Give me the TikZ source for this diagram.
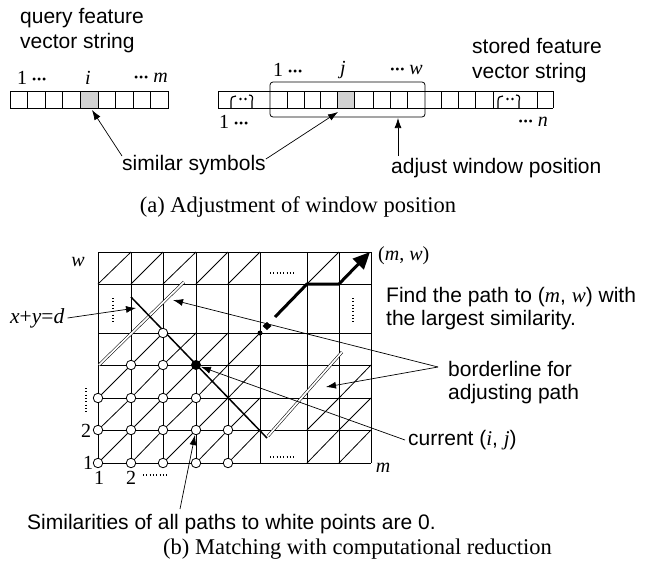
\documentclass[tikz,border=0pt]{standalone}
\usepackage{fontspec}
\setmainfont{Liberation Serif}
\setsansfont{Liberation Sans}
\usetikzlibrary{arrows.meta}
\newcommand\vi[1]{{\rmfamily\itshape #1}}
\newcommand\tdots{{\fontsize{12}{12}\selectfont\raisebox{0.15ex}{\textbullet\kern0.8pt\textbullet\kern0.8pt\textbullet}}}
\begin{document}
\begin{tikzpicture}[x=1pt,y=-1pt,
  sans/.style={font=\sffamily\fontsize{21}{25}\selectfont, inner sep=0pt, align=left},
  sans2/.style={font=\sffamily\fontsize{21}{23}\selectfont, inner sep=0pt, align=left},
  ser/.style={font=\rmfamily\fontsize{20}{22}\selectfont, inner sep=0pt},
  captext/.style={font=\rmfamily\fontsize{22.5}{26}\selectfont, inner sep=0pt},
  arr/.style={-{Latex[length=10pt,width=7pt]}, line width=0.7pt},
  thinl/.style={line width=0.8pt},
  cellbox/.style={draw, line width=0.8pt},
  wdot/.style={circle, draw, fill=white, inner sep=0pt, minimum size=9.5pt, line width=0.8pt},
  dotline/.style={line width=1.3pt, dash pattern=on 0.9pt off 2.4pt},
  dbl/.style={double, double distance=1.8pt, line width=0.55pt},
  brk/.style={line width=1.2pt},
]
\useasboundingbox (0,0) rectangle (656,563);
\fill[white] (0,0) rectangle (656,563);

% ================= (a) =================
\node[sans, anchor=west] (qtitle) at (20,30.5) {query feature\\vector string};
\node[sans, anchor=west] (stitle) at (472,61) {stored feature\\vector string};

% query string
\fill[gray!35] (80.4,91) rectangle (98,108);
\foreach \i in {0,...,8} \draw[cellbox] ({10+\i*17.6},91) rectangle ({10+(\i+1)*17.6},108);

% stored string
\fill[gray!35] (337.3,91) rectangle (354,108);
\draw[thinl] (218,91) -- (553,91);
\draw[thinl] (218,108) -- (553,108);
\foreach \x in {218,287.3,304,320.7,337.3,354,373.3,390.7,407.3,441.7,458.3,475,493.3,537,553}
  \draw[thinl] (\x,91) -- (\x,108);
\draw[thinl, rounded corners=3pt] (270,82) rectangle (425,117);
% break glyphs
\foreach \s in {0,267}{
  \draw[brk] (231+\s,108) -- (231+\s,101) .. controls (231+\s,97) and (233+\s,96) .. (236+\s,96);
  \fill (240.5+\s,99) circle (1.4pt) (245.5+\s,99) circle (1.4pt);
  \draw[brk] (249+\s,95) .. controls (253+\s,95) and (253+\s,98) .. (252+\s,101) -- (252+\s,108);
}

% labels of strings
\node[ser, anchor=west] (q1) at (17,78) {1 \tdots};
\node[ser] (qi) at (88,78) {\textit{i}};
\node[ser, anchor=east] (qm) at (168,78) {\tdots\ \textit{m}};
\node[ser, anchor=west] (s1) at (273,70) {1 \tdots};
\node[ser] (sj) at (343,70) {\textit{j}};
\node[ser, anchor=east] (sw) at (423,70) {\tdots\ \textit{w}};
\node[ser, anchor=west] (b1) at (219,122) {1 \tdots};
\node[ser, anchor=east] (bn) at (548,122) {\tdots\ \textit{n}};

% callouts
\node[sans, anchor=west] (sim) at (122,165) {similar symbols};
\coordinate (qtip) at (92,110);
\coordinate (stip) at (338,112);
\draw[arr] ([yshift=-1pt]sim.north west) -- (qtip);
\draw[arr] ([yshift=-4pt]sim.north east) -- (stip);
\node[sans, anchor=west] (adj) at (391,168) {adjust window position};
\coordinate (wtip) at (398,118);
\draw[arr] ([xshift=7pt,yshift=2pt]adj.north west) -- (wtip);

\node[captext] (capa) at (298,207) {(a) Adjustment of window position};

% ================= (b) =================
% grid
\foreach \x in {98,131,163,196,228,260,307,339,371} \draw[thinl] (\x,252) -- (\x,463);
\foreach \y in {252,284,333,365,398,430,463} \draw[thinl] (98,\y) -- (371,\y);
% diagonals
\foreach \a/\b in {98/131,131/163,163/196,196/228,228/260}
  \foreach \lo/\hi in {284/252,398/365,430/398,463/430} \draw[thinl] (\a,\lo) -- (\b,\hi);
\foreach \a/\b in {131/163,163/196,196/228,228/260} \draw[thinl] (\a,365) -- (\b,333);
\draw[thinl] (307,284) -- (339,252);
\draw[thinl] (339,398) -- (371,365);
\draw[thinl] (307,430) -- (339,398);
\draw[thinl] (339,430) -- (371,398);
\draw[thinl] (307,463) -- (339,430);
\draw[thinl] (339,463) -- (371,430);

% dotted markers
\draw[dotline] (270,273) -- (294,273);
\draw[dotline] (270,457) -- (294,457);
\draw[dotline] (113,298) -- (113,323);
\draw[dotline] (353,298) -- (353,323);

% borderlines
\draw[dbl] (99,365) -- (184,282);
\draw[dbl] (268,436) -- (342,352);

% x+y=d line
\draw[line width=1.5pt] (131,297) -- (267,438);

% thick path
\draw[line width=3pt, -{Triangle[length=17pt,width=15pt]}] (275,317) -- (307,284) -- (339,284) -- (370,252);

% points
\foreach \p [count=\k] in {(98,463),(131,463),(163,463),(196,463),(228,463),
  (98,430),(131,430),(163,430),(196,430),(228,430),
  (98,398),(131,398),(163,398),(196,398),
  (131,365),(163,365),(163,333)}
  \node[wdot] (wp\k) at \p {};
\node[circle, fill, inner sep=0pt, minimum size=10pt] (cur) at (196,365) {};
\node[circle, fill, inner sep=0pt, minimum size=5pt] (sd) at (260,333) {};
\fill (267,322) -- (271.5,326) -- (267,330) -- (262.5,326) -- cycle;

% axis labels
\node[ser] (lw) at (78,262) {\textit{w}};
\node[ser, anchor=west] (lmw) at (378,256) {(\textit{m}, \textit{w})};
\node[ser] (lm) at (383,468) {\textit{m}};
\node[ser] (l1) at (88,463) {1};
\node[ser] (l2) at (86,431) {2};
\draw[dotline] (86,388) -- (86,412);
\node[ser] (lb1) at (99,478) {1};
\node[ser] (lb2) at (131,478) {2};
\draw[dotline] (143,475) -- (167,475);

% texts and callouts
\node[ser, anchor=west, font=\rmfamily\fontsize{21.5}{24}\selectfont] (xyd) at (10,318) {\textit{x}+\textit{y}=\textit{d}};
\coordinate (xydtip) at (136,308);
\draw[arr] ([xshift=3pt]xyd.east) -- (xydtip);

\node[sans2, anchor=west] (find) at (386,309)
  {Find the path to (\vi{m}, \vi{w}) with\\the largest similarity.};

\node[sans2, anchor=west] (bord) at (448,383)
  {borderline for\\adjusting path};
\coordinate (bj) at (438,367);
\coordinate (ut) at (173,300);
\coordinate (lt) at (326,387);
\draw[arr] (bj) -- (ut);
\draw[arr] (bj) -- (lt);

\node[sans, anchor=west] (curtxt) at (408,440) {current (\vi{i}, \vi{j})};
\draw[arr] ([xshift=-3pt]curtxt.west) -- (cur);

\node[sans, anchor=west] (simtxt) at (27,524) {Similarities of all paths to white points are 0.};
\coordinate (s0) at (180,509);
\draw[arr] (s0) -- (wp9);

\node[captext, anchor=west] (capb) at (163,549) {(b) Matching with computational reduction};
\end{tikzpicture}
\end{document}
